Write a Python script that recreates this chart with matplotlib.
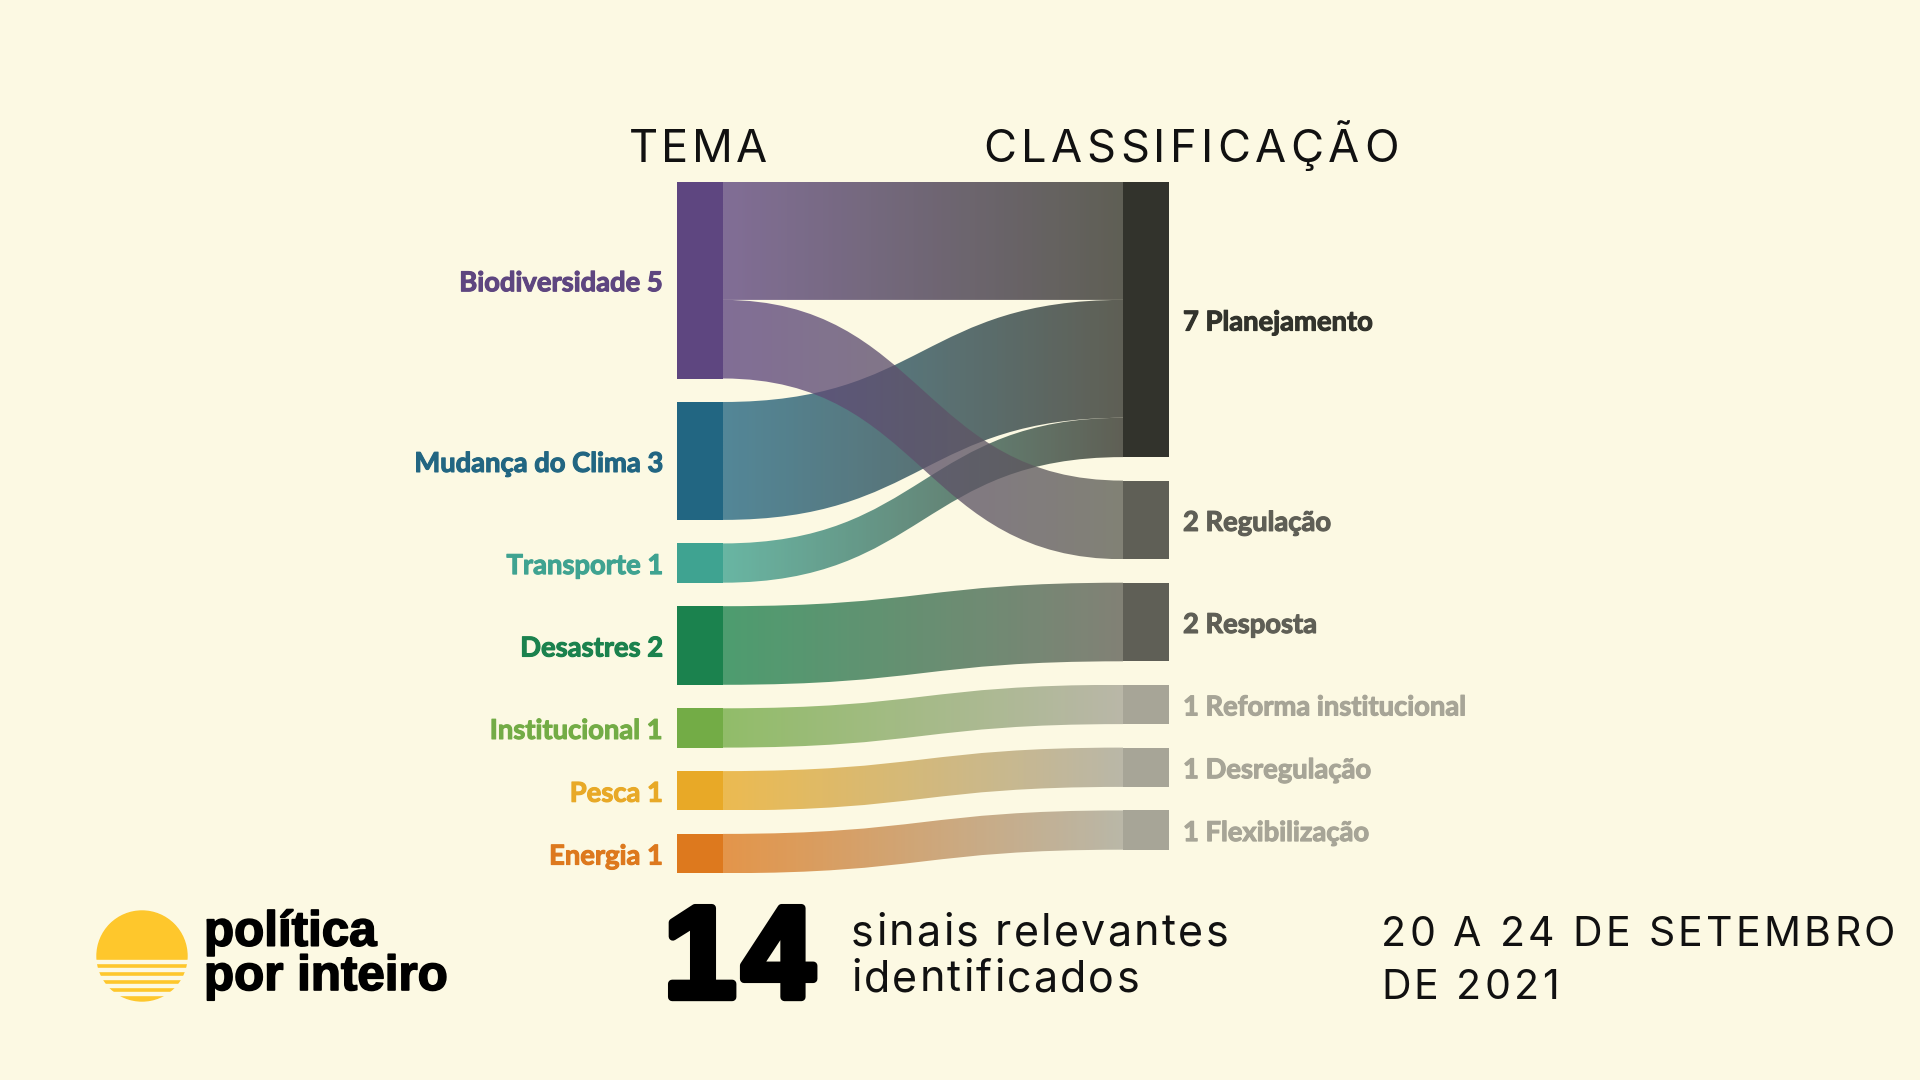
import numpy as np
import matplotlib
matplotlib.use('Agg')
import matplotlib.pyplot as plt
from matplotlib.path import Path
from matplotlib.patches import PathPatch, Circle, Rectangle
from matplotlib.colors import to_rgb
import matplotlib.patheffects as pe

BG = '#fcf9e3'

# dados
temas = ['Biodiversidade', 'Mudança do Clima', 'Transporte', 'Desastres',
         'Institucional', 'Pesca', 'Energia']
tema_cores = ['#5e4680', '#226682', '#3fa391', '#1b824e', '#73ac46', '#e8a927', '#dd791e']
classes = ['Planejamento', 'Regulação', 'Resposta', 'Reforma institucional',
           'Desregulação', 'Flexibilização']
classe_cores = ['#32332c', '#5f5f56', '#5f5f56', '#a7a597', '#a7a597', '#a7a597']
link_src = [0, 0, 1, 2, 3, 4, 5, 6]
link_tgt = [0, 1, 0, 0, 2, 3, 4, 5]
link_val = [3, 2, 3, 1, 2, 1, 1, 1]
periodo = ['20 A 24 DE SETEMBRO', 'DE 2021']

fig = plt.figure(figsize=(19.2, 10.8), dpi=100, facecolor=BG)
ax = fig.add_axes([0, 0, 1, 1])
ax.set_facecolor(BG)
ax.axis('off')
ax.set_xlim(0, 1920)
ax.set_ylim(1080, 0)

# layout do sankey
X_L, X_R, NODE_W = 677, 1123, 46
TOP, UNIT, GAP = 182, 39.3, 23.5


def stack(vals):
    tops, y = [], TOP
    for v in vals:
        tops.append(y)
        y += v * UNIT + GAP
    return tops


src_tot = [sum(v for s, v in zip(link_src, link_val) if s == i) for i in range(len(temas))]
tgt_tot = [sum(v for t, v in zip(link_tgt, link_val) if t == i) for i in range(len(classes))]
src_top = stack(src_tot)
tgt_top = stack(tgt_tot)

ax.bar([X_L] * len(temas), [v * UNIT for v in src_tot], bottom=src_top, width=NODE_W,
       align='edge', color=tema_cores, linewidth=0, zorder=3)
ax.bar([X_R] * len(classes), [v * UNIT for v in tgt_tot], bottom=tgt_top, width=NODE_W,
       align='edge', color=classe_cores, linewidth=0, zorder=3)

# posicoes das ligacoes dentro de cada no
s_off = list(src_top)
t_off = list(tgt_top)
link_sy = [None] * len(link_val)
link_ty = [None] * len(link_val)
for i in sorted(range(len(link_val)), key=lambda k: (link_src[k], link_tgt[k])):
    link_sy[i] = s_off[link_src[i]]
    s_off[link_src[i]] += link_val[i] * UNIT
for i in sorted(range(len(link_val)), key=lambda k: (link_tgt[k], link_src[k])):
    link_ty[i] = t_off[link_tgt[i]]
    t_off[link_tgt[i]] += link_val[i] * UNIT

x0, x1 = X_L + NODE_W, X_R
xm = (x0 + x1) / 2
grad = np.linspace(0, 1, 256)[:, None]
# desenha de baixo para cima: Biodiversidade fica por cima nos cruzamentos
for i in reversed(range(len(link_val))):
    h = link_val[i] * UNIT
    sy0, ty0 = link_sy[i], link_ty[i]
    sy1, ty1 = sy0 + h, ty0 + h
    verts = [(x0, sy0), (xm, sy0), (xm, ty0), (x1, ty0), (x1, ty1),
             (xm, ty1), (xm, sy1), (x0, sy1), (x0, sy0)]
    codes = [Path.MOVETO, Path.CURVE4, Path.CURVE4, Path.CURVE4, Path.LINETO,
             Path.CURVE4, Path.CURVE4, Path.CURVE4, Path.CLOSEPOLY]
    patch = PathPatch(Path(verts, codes), facecolor='none', edgecolor='none')
    ax.add_patch(patch)
    c0 = np.array(to_rgb(tema_cores[link_src[i]]))
    c1 = np.array(to_rgb(classe_cores[link_tgt[i]]))
    img = (c0 * (1 - grad) + c1 * grad)[None, :, :]
    im = ax.imshow(img, extent=[x0, x1, max(sy1, ty1), min(sy0, ty0)], aspect='auto',
                   alpha=0.78, interpolation='bilinear', zorder=2)
    im.set_clip_path(patch)

# rotulos
lab = dict(fontsize=19.7, fontweight='bold', family='Lato')
for i, nome in enumerate(temas):
    yc = src_top[i] + src_tot[i] * UNIT / 2 + 3
    ax.text(X_L - 14, yc, f'{nome} {src_tot[i]}', ha='right', va='center',
            color=tema_cores[i], path_effects=[pe.withStroke(linewidth=0.8, foreground=tema_cores[i])],
            **lab)
for i, nome in enumerate(classes):
    yc = tgt_top[i] + tgt_tot[i] * UNIT / 2 + 3
    ax.text(X_R + NODE_W + 14, yc, f'{tgt_tot[i]} {nome}', ha='left', va='center',
            color=classe_cores[i], path_effects=[pe.withStroke(linewidth=0.8, foreground=classe_cores[i])],
            **lab)


def spaced_text(x, y, s, width, ha='left', **kw):
    # texto com espacamento entre letras ajustado para ocupar "width" pixels
    r = fig.canvas.get_renderer()

    def w(txt):
        t = ax.text(0, 0, txt, **kw)
        bb = t.get_window_extent(r)
        t.remove()
        return bb.width

    ref = w('|')
    adv = [w(s[:i] + '|') - ref for i in range(len(s))]
    tracking = (width - w(s)) / (len(s) - 1)
    xs = x - width / 2 if ha == 'center' else x
    for i, ch in enumerate(s):
        if ch != ' ':
            ax.text(xs + adv[i] + tracking * i, y, ch, ha='left', **kw)


head = dict(fontsize=32.5, family='Inter', color='#111111', va='baseline')
spaced_text(698, 162, 'TEMA', 138, ha='center', **head)
spaced_text(1191, 162, 'CLASSIFICAÇÃO', 415, ha='center', **head)

# rodape
spaced_text(664, 997, str(sum(link_val)), 150, fontsize=93, fontweight='bold',
            family='Liberation Sans', color='black', va='baseline',
            path_effects=[pe.withStroke(linewidth=6, foreground='black')])
sub = dict(fontsize=31, family='Inter', color='#111111', va='baseline')
spaced_text(851, 945, 'sinais relevantes', 377, **sub)
spaced_text(851, 991, 'identificados', 288, **sub)
dt = dict(fontsize=29.5, family='Inter', color='#111111', va='baseline')
spaced_text(1381, 946, periodo[0], 514, **dt)
spaced_text(1381, 999, periodo[1], 514 * 0.345, **dt)

# logo
ax.add_patch(Circle((142, 956), 45, color='#fec72c', zorder=3))
for yy in [960, 967.7, 975.7, 983.7, 991.7]:
    ax.add_patch(Rectangle((90, yy), 105, 3, color=BG, zorder=4))
ax.text(204, 990, 'política\npor inteiro', fontsize=35.5, fontweight='bold',
        family='Liberation Sans', color='black', va='baseline', ha='left',
        linespacing=0.98, path_effects=[pe.withStroke(linewidth=1.2, foreground='black')])

ax.set_xlim(0, 1920)
ax.set_ylim(1080, 0)
fig.savefig('out.png', dpi=100, facecolor=BG)
